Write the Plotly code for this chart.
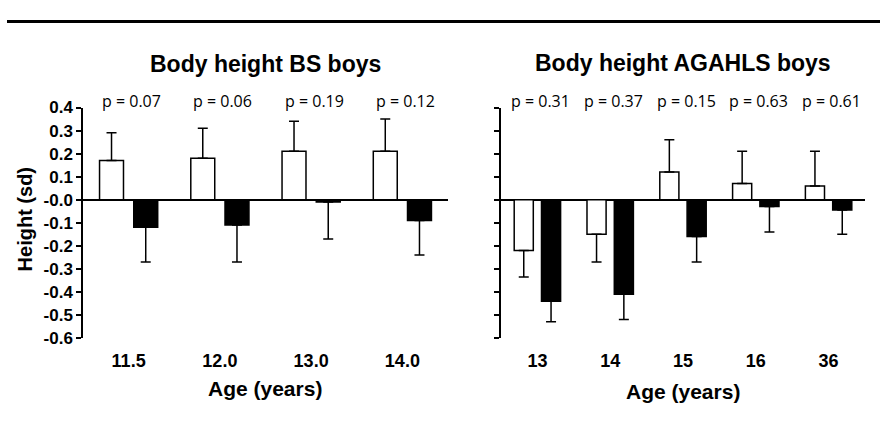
import plotly.graph_objects as go

# ---- data ----
bs_ages = ["11.5", "12.0", "13.0", "14.0"]
bs_white = [0.17, 0.18, 0.21, 0.21]
bs_white_err = [0.12, 0.13, 0.13, 0.14]
bs_black = [-0.12, -0.11, -0.01, -0.09]
bs_black_err = [0.15, 0.16, 0.16, 0.15]
bs_p = ["p = 0.07", "p = 0.06", "p = 0.19", "p = 0.12"]

ag_ages = ["13", "14", "15", "16", "36"]
ag_white = [-0.22, -0.15, 0.12, 0.07, 0.06]
ag_white_err = [0.115, 0.12, 0.14, 0.14, 0.15]
ag_black = [-0.44, -0.41, -0.16, -0.03, -0.045]
ag_black_err = [0.09, 0.11, 0.11, 0.11, 0.105]
ag_p = ["p = 0.31", "p = 0.37", "p = 0.15", "p = 0.63", "p = 0.61"]

y_tickvals = [0.4, 0.3, 0.2, 0.1, 0.0, -0.1, -0.2, -0.3, -0.4, -0.5, -0.6]
y_ticktext = ["0.4", "0.3", "0.2", "0.1", "-0.0", "-0.1", "-0.2", "-0.3", "-0.4", "-0.5", "-0.6"]

W, H = 880, 436
FONT = "Liberation Sans, Arial, sans-serif"


def err_dirs(vals, errs):
    up = [e if v >= 0 else 0 for v, e in zip(vals, errs)]
    down = [e if v < 0 else 0 for v, e in zip(vals, errs)]
    return up, down


fig = go.Figure()

for cats, vals, errs, color, xa, ya in [
    (bs_ages, bs_white, bs_white_err, "white", "x", "y"),
    (bs_ages, bs_black, bs_black_err, "black", "x", "y"),
    (ag_ages, ag_white, ag_white_err, "white", "x2", "y2"),
    (ag_ages, ag_black, ag_black_err, "black", "x2", "y2"),
]:
    up, down = err_dirs(vals, errs)
    fig.add_trace(go.Bar(
        x=cats, y=vals, xaxis=xa, yaxis=ya,
        marker=dict(color=color, line=dict(color="black", width=1.5)),
        error_y=dict(type="data", symmetric=False, array=up, arrayminus=down,
                     color="black", thickness=1.5, width=5),
        showlegend=False,
    ))

ydom = [(H - 344) / H, (H - 103) / H]
xdom1 = [83 / W, 448 / W]
xdom2 = [501 / W, 865 / W]

common_x = dict(type="category", showline=False, ticks="", showgrid=False,
                tickangle=0,
                tickfont=dict(family=FONT, size=18, color="black", weight="bold"),
                ticklabelstandoff=10)
common_y = dict(range=[-0.6, 0.4], tickvals=y_tickvals, showline=True, linecolor="black",
                linewidth=1.5, ticks="outside", ticklen=5, tickwidth=1.5, tickcolor="black",
                showgrid=False, zeroline=True, zerolinecolor="black", zerolinewidth=1.5,
                domain=ydom)

fig.update_layout(
    width=W, height=H,
    margin=dict(l=0, r=0, t=0, b=0),
    paper_bgcolor="white", plot_bgcolor="white",
    barmode="group", bargap=0.25, bargroupgap=0.3,
    xaxis=dict(domain=xdom1, anchor="y", range=[-0.5, len(bs_ages) - 0.5], **common_x),
    xaxis2=dict(domain=xdom2, anchor="y2", range=[-0.5, len(ag_ages) - 0.5], **common_x),
    yaxis=dict(anchor="x", ticktext=y_ticktext, showticklabels=True,
               tickfont=dict(family=FONT, size=17, color="black", weight="bold"),
               **common_y),
    yaxis2=dict(anchor="x2", showticklabels=False, **common_y),
)

ann = []
# p-values (positioned at category index on each category axis)
for cats, ps, xr in [(bs_ages, bs_p, "x"), (ag_ages, ag_p, "x2")]:
    for i, p in enumerate(ps):
        ann.append(dict(x=i, xref=xr, y=1 - 96 / H, yref="paper", text=p, showarrow=False,
                        xanchor="center", yanchor="middle", xshift=3,
                        font=dict(family="Open Sans, sans-serif", size=16, color="black")))
# titles
ann.append(dict(x=265 / W, y=1 - 58 / H, xref="paper", yref="paper", text="Body height BS boys",
                showarrow=False, xanchor="center", yanchor="middle",
                font=dict(family=FONT, size=23, color="black", weight="bold")))
ann.append(dict(x=683 / W, y=1 - 56 / H, xref="paper", yref="paper", text="Body height AGAHLS boys",
                showarrow=False, xanchor="center", yanchor="middle",
                font=dict(family=FONT, size=23, color="black", weight="bold")))
# x titles
for cx, cy in ((265, 397), (683, 400)):
    ann.append(dict(x=cx / W, y=1 - cy / H, xref="paper", yref="paper", text="Age (years)",
                    showarrow=False, xanchor="center", yanchor="middle",
                    font=dict(family=FONT, size=21, color="black", weight="bold")))
# y title
ann.append(dict(x=25 / W, y=1 - 220 / H, xref="paper", yref="paper", text="Height (sd)",
                showarrow=False, xanchor="center", yanchor="middle", textangle=-90,
                font=dict(family=FONT, size=20, color="black", weight="bold")))
fig.update_layout(annotations=ann)

fig.add_shape(type="line", xref="paper", yref="paper", x0=7 / W, x1=1, y0=1 - 13 / H, y1=1 - 13 / H,
              line=dict(color="black", width=3))

fig.write_html("out.html")
